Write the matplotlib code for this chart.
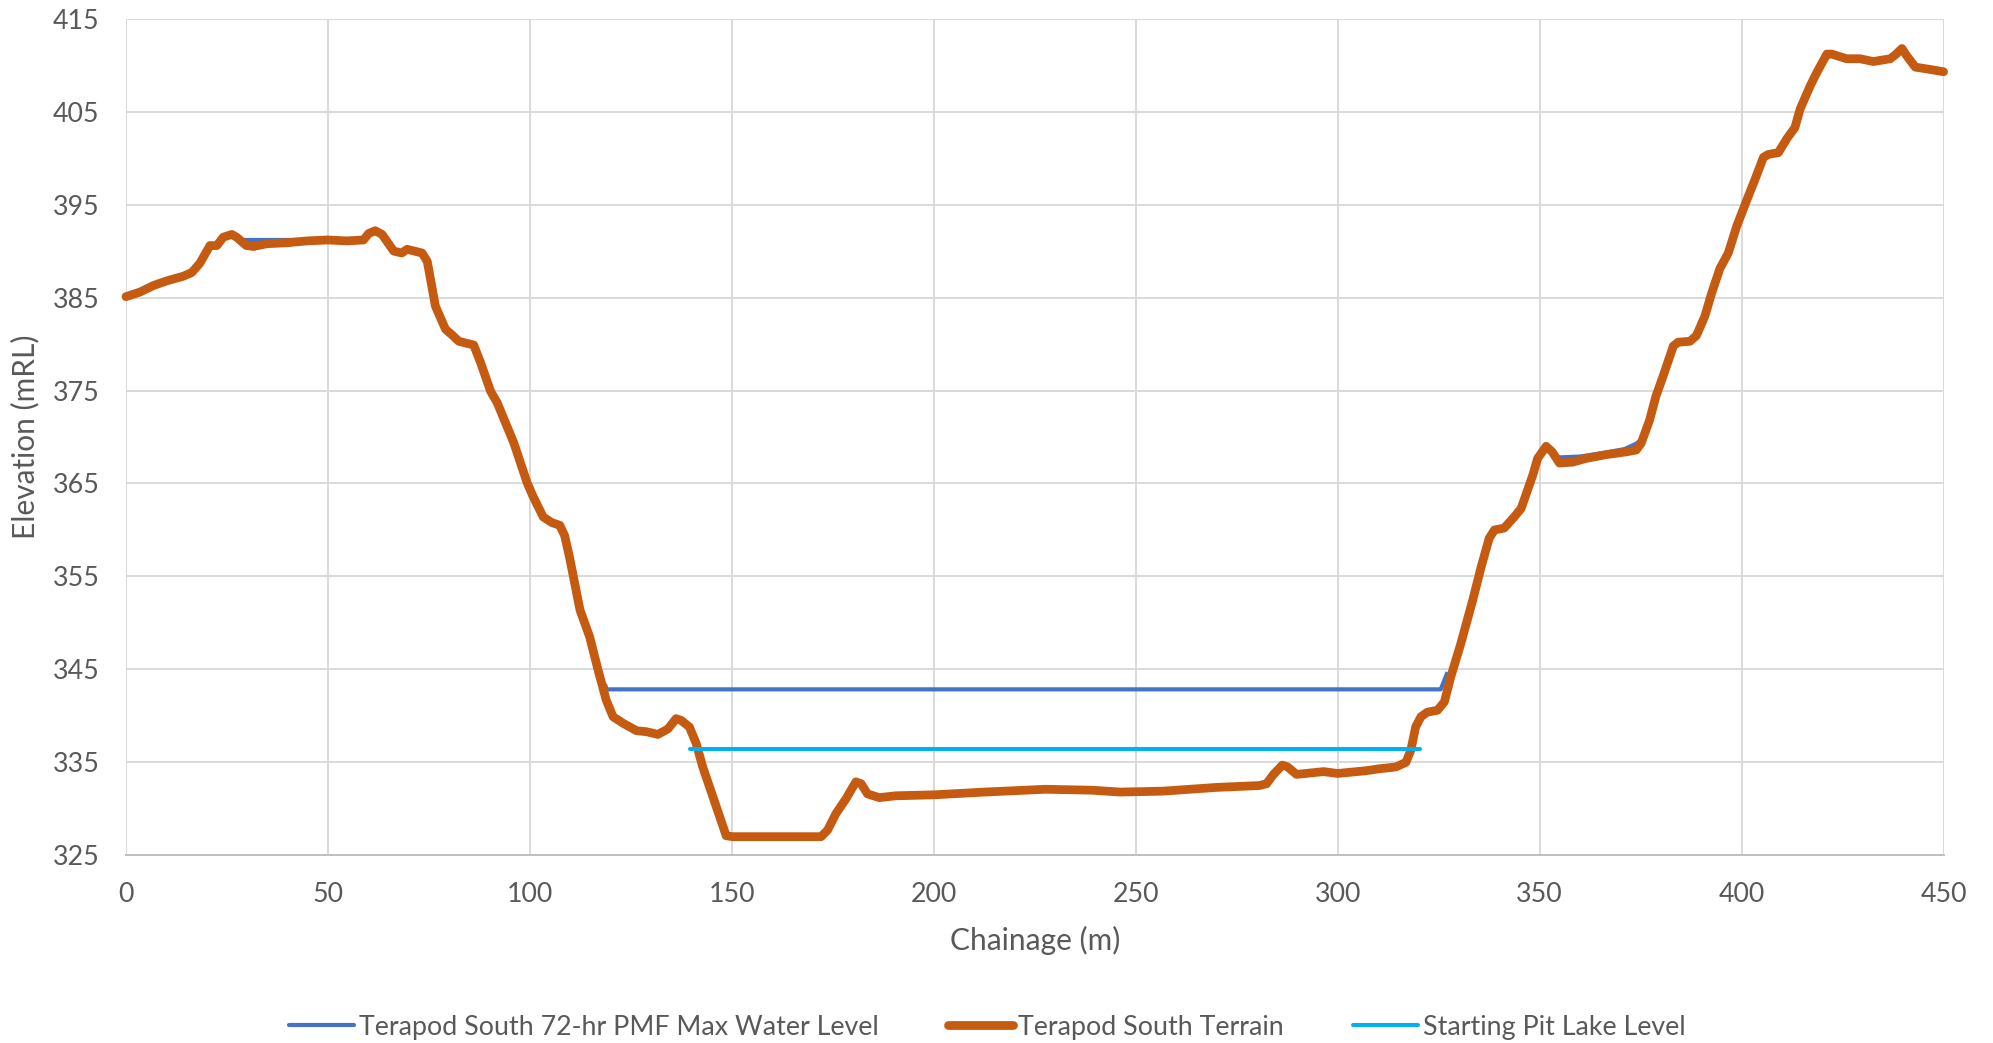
import numpy as np
import matplotlib
matplotlib.use("Agg")
import matplotlib.pyplot as plt
from matplotlib.lines import Line2D

# Terrain long section along the pit (chainage m, elevation mRL)
terrain_ch = [0, 3.5, 6.8, 10.1, 11.7, 14.2, 16.3, 18.3, 20.8, 22.5, 24.1, 26.2, 27.4,
              29.8, 31.6, 34.9, 39.8, 44.8, 50.0, 54.7, 58.8, 60.1, 61.7, 63.4, 66.3,
              68.3, 69.6, 73.3, 74.6, 76.6, 79.1, 80.7, 82.4, 86.1, 87.8, 90.3, 91.9,
              96.0, 97.7, 99.3, 100.8, 103.3, 105.4, 107.4, 108.6, 109.9, 112.4, 114.8,
              116.9, 118.9, 120.6, 123.1, 126.4, 128.8, 131.7, 134.2, 136.2, 137.5,
              139.5, 141.2, 142.8, 145.3, 147.0, 148.6, 150.2, 172.1, 173.7, 175.8,
              178.3, 180.7, 182.0, 183.6, 186.5, 190.6, 200.0, 212.6, 227.6, 239.1,
              246.2, 256.8, 270.0, 280.6, 282.4, 284.1, 286.3, 287.6, 289.8, 296.5,
              300.0, 307.1, 310.2, 314.4, 316.9, 318.1, 319.3, 320.6, 322.2, 324.7,
              326.4, 328.0, 330.5, 333.4, 335.5, 337.5, 338.8, 341.2, 343.7, 345.4,
              348.3, 349.5, 351.6, 353.1, 354.9, 358.2, 361.5, 366.4, 371.4, 373.9,
              375.1, 377.2, 378.8, 380.6, 383.1, 384.3, 387.2, 388.8, 390.9, 392.6,
              394.6, 396.7, 398.8, 401.2, 403.3, 405.4, 406.6, 409.1, 411.2, 413.2,
              414.5, 417.0, 418.6, 421.1, 422.3, 426.0, 429.3, 432.6, 436.8, 438.0,
              439.7, 440.9, 443.0, 445.9, 450.0]
terrain_el = [385.1, 385.6, 386.3, 386.8, 387.0, 387.3, 387.7, 388.7, 390.6, 390.6, 391.5,
              391.8, 391.5, 390.6, 390.5, 390.8, 390.9, 391.1, 391.2, 391.1, 391.2, 391.9,
              392.2, 391.8, 390.0, 389.8, 390.2, 389.8, 388.9, 384.1, 381.6, 381.0, 380.3,
              379.9, 378.0, 374.9, 373.7, 369.4, 367.2, 365.1, 363.6, 361.4, 360.8, 360.5,
              359.4, 356.9, 351.4, 348.5, 344.9, 341.7, 339.9, 339.2, 338.4, 338.3, 338.0,
              338.6, 339.7, 339.5, 338.8, 337.0, 334.5, 331.3, 329.1, 327.1, 327.0, 327.0,
              327.7, 329.5, 331.1, 332.9, 332.7, 331.6, 331.2, 331.4, 331.5, 331.8, 332.1,
              332.0, 331.8, 331.9, 332.3, 332.5, 332.7, 333.7, 334.7, 334.5, 333.7, 334.0,
              333.8, 334.1, 334.3, 334.5, 335.0, 336.3, 338.8, 339.9, 340.4, 340.6, 341.5,
              344.2, 347.8, 352.4, 356.0, 359.1, 360.0, 360.2, 361.4, 362.3, 365.9, 367.7,
              369.0, 368.4, 367.2, 367.3, 367.7, 368.1, 368.4, 368.6, 369.3, 371.8, 374.4,
              376.6, 379.8, 380.2, 380.3, 380.9, 383.0, 385.5, 388.1, 389.8, 392.7, 395.4,
              397.7, 400.1, 400.4, 400.6, 402.1, 403.3, 405.3, 407.8, 409.2, 411.2, 411.2,
              410.7, 410.7, 410.4, 410.7, 411.1, 411.8, 411.0, 409.8, 409.6, 409.3]

# 72-hr PMF maximum water level (wet reaches only, NaN between them)
pmf_ch = [28.8, 58.8, np.nan, 118.6, 119.0, 325.5, 327.2, np.nan,
          354.5, 360.0, 366.0, 371.0, 374.0, 375.6]
pmf_el = [391.2, 391.2, np.nan, 343.4, 342.85, 342.85, 344.7, np.nan,
          367.8, 367.9, 368.3, 368.7, 369.3, 369.9]

# Starting pit lake level
lake_ch = [139.7, 320.3]
lake_el = [336.45, 336.45]

x_ticks = list(range(0, 451, 50))
y_ticks = list(range(325, 416, 10))

series_names = ["Terapod South 72-hr PMF Max Water Level",
                "Terapod South Terrain",
                "Starting Pit Lake Level"]
series_colors = ["#4472C4", "#C55A11", "#00B0F0"]
series_widths = [3.0, 6.3, 2.9]

plt.rcParams["font.family"] = ["Lato", "DejaVu Sans"]
text_color = "#595959"
grid_color = "#D9D9D9"

fig = plt.figure(figsize=(19.93, 10.43), dpi=100)
ax = fig.add_axes([0.0632, 0.180, 0.9120, 0.802])

ax.plot(pmf_ch, pmf_el, color=series_colors[0], lw=series_widths[0],
        solid_capstyle="butt", zorder=3)
ax.plot(terrain_ch, terrain_el, color=series_colors[1], lw=series_widths[1],
        solid_capstyle="round", solid_joinstyle="round", zorder=4, clip_on=False)
ax.plot(lake_ch, lake_el, color=series_colors[2], lw=series_widths[2],
        solid_capstyle="round", zorder=5)

ax.set_xlim(0, 450)
ax.set_ylim(325, 415)
ax.set_xticks(x_ticks)
ax.set_yticks(y_ticks)
ax.grid(True, color=grid_color, lw=1.4, zorder=0)
ax.set_axisbelow(True)
for side in ["top", "right", "left"]:
    ax.spines[side].set_visible(False)
ax.spines["bottom"].set_color("#BFBFBF")
ax.spines["bottom"].set_linewidth(1.4)
ax.tick_params(axis="both", length=0, labelsize=19.3, labelcolor=text_color)
ax.tick_params(axis="x", pad=19)
ax.tick_params(axis="y", pad=19)

ax.set_xlabel("Chainage (m)", fontsize=21.5, color=text_color)
ax.xaxis.set_label_coords(0.5, -0.1017)
ax.xaxis.label.set_va("center")
ax.set_ylabel("Elevation (mRL)", fontsize=21.5, color=text_color)
ax.yaxis.set_label_coords(-0.0555, 0.5)
ax.yaxis.label.set_va("center")

handles = [Line2D([], [], color=c, lw=w, solid_capstyle="round")
           for c, w in zip(series_colors, series_widths)]
fig.legend(handles, series_names, loc="center", ncol=3, frameon=False,
           bbox_to_anchor=(987.5 / 1993, 1 - 1027 / 1043),
           fontsize=19.3, labelcolor=text_color, handlelength=2.4,
           handletextpad=0.2, columnspacing=2.6)

fig.savefig("out.png", dpi=100)
